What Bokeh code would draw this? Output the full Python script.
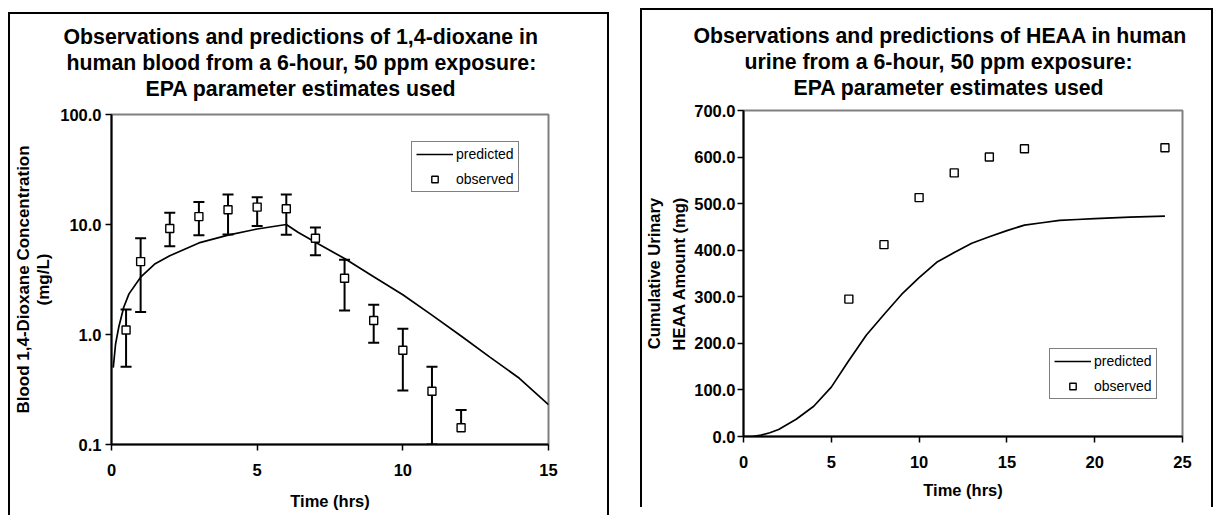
from bokeh.plotting import figure
from bokeh.models import (ColumnDataSource, Whisker, TeeHead, Legend, LegendItem, Title,
                          FixedTicker, NumeralTickFormatter, Range1d)
from bokeh.layouts import row
from bokeh.embed import file_html
from bokeh.resources import INLINE

FONT = "Liberation Sans"

# ---------------- data: left chart (blood) ----------------
blood_obs_time = [0.5, 1, 2, 3, 4, 5, 6, 7, 8, 9, 10, 11, 12]
blood_obs_conc = [1.1, 4.6, 9.2, 11.8, 13.6, 14.4, 13.9, 7.5, 3.25, 1.34, 0.72, 0.305, 0.142]
blood_obs_upper = [1.69, 7.5, 12.8, 16.0, 18.7, 17.7, 18.7, 9.4, 4.78, 1.86, 1.13, 0.51, 0.206]
blood_obs_lower = [0.51, 1.6, 6.35, 8.0, 8.1, 9.7, 8.05, 5.26, 1.65, 0.84, 0.31, 0.10, 0.142]
blood_pred_time = [0.06, 0.14, 0.25, 0.42, 0.6, 1.0, 1.5, 2.0, 3.0, 4.0, 5.0, 6.0, 6.4, 7.0,
                   8.0, 9.0, 10.0, 11.0, 12.0, 13.0, 14.0, 15.0]
blood_pred_conc = [0.50, 0.82, 1.17, 1.77, 2.34, 3.32, 4.4, 5.2, 6.8, 8.0, 9.1, 10.0, 8.5, 6.9,
                   4.9, 3.35, 2.3, 1.5, 0.97, 0.62, 0.40, 0.23]
blood_x_ticks = [0, 5, 10, 15]
blood_y_ticks = [0.1, 1, 10, 100]

# ---------------- data: right chart (urine) ----------------
urine_obs_time = [6, 8, 10, 12, 14, 16, 24]
urine_obs_amount = [295, 412, 513, 566, 600, 618, 620]
urine_pred_time = [0, 0.5, 1, 1.5, 2, 3, 4, 5, 6, 7, 8, 9, 10, 11, 12, 13, 14, 15, 16, 17,
                   18, 19, 20, 22, 24]
urine_pred_amount = [0, 0, 3, 8, 15, 37, 65, 106, 163, 218, 262, 305, 341, 374, 395, 415, 429,
                     442, 454, 459, 464, 466, 468, 471, 473]
urine_x_ticks = [0, 5, 10, 15, 20, 25]
urine_y_ticks = [0, 100, 200, 300, 400, 500, 600, 700]

title_left = ["Observations and predictions of 1,4-dioxane in",
              "human blood from a 6-hour, 50 ppm exposure:",
              "EPA parameter estimates used"]
title_right = ["Observations and predictions of HEAA in human",
               "urine from a 6-hour, 50 ppm exposure:",
               "EPA parameter estimates used"]
ylabel_left = ["Blood 1,4-Dioxane Concentration", "(mg/L)"]
ylabel_right = ["Cumulative Urinary", "HEAA Amount (mg)"]
xlabel = "Time (hrs)"
legend_labels = ["predicted", "observed"]

BOX_STYLE = {"border-left": "2px solid black", "border-top": "2px solid black",
             "border-right": "2px solid black"}

# shared (row-aligned) top / bottom borders
TOP, BOTTOM = 100, 73


def make_fig(width, height, bl, br, xr, yr, yscale, xticks, yticks, tick_size, margin):
    p = figure(width=width, height=height, x_range=xr, y_range=yr, y_axis_type=yscale,
               output_backend="svg", toolbar_location=None, tools="", title_location=None,
               min_border_left=bl, min_border_right=br, min_border_top=TOP,
               min_border_bottom=BOTTOM, styles=BOX_STYLE, margin=margin)
    p.grid.visible = False
    p.background_fill_color = "white"
    p.border_fill_color = "white"
    p.outline_line_color = "#808080"
    p.outline_line_width = 2
    for ax in (p.xaxis[0], p.yaxis[0]):
        ax.axis_line_color = "black"
        ax.axis_line_width = 2
        ax.major_tick_in = 0
        ax.major_tick_out = 6
        ax.major_tick_line_width = 1.5
        ax.minor_tick_line_color = None
        ax.major_label_text_font = FONT
        ax.major_label_text_font_style = "bold"
        ax.major_label_text_font_size = tick_size
        ax.major_label_text_color = "black"
        ax.axis_label_text_font = FONT
        ax.axis_label_text_font_style = "bold"
        ax.axis_label_text_font_size = "16.5px"
        ax.axis_label_text_color = "black"
    p.xaxis[0].ticker = FixedTicker(ticks=xticks, minor_ticks=[])
    p.yaxis[0].ticker = FixedTicker(ticks=yticks, minor_ticks=[])
    p.xaxis[0].major_label_standoff = 13
    p.yaxis[0].major_label_standoff = 4
    p.yaxis[0].formatter = NumeralTickFormatter(format="0.0")
    p.xaxis[0].axis_label = xlabel
    return p


def add_titles(p, lines, offsets, spacer):
    # closest to the frame first
    p.add_layout(Title(text=" ", text_font_size="%dpx" % spacer, standoff=0), "above")
    for text, off in reversed(list(zip(lines, offsets))):
        p.add_layout(Title(text=text, align="left", offset=off, text_font=FONT,
                           text_font_size="21.3px", text_font_style="bold",
                           text_color="black", standoff=0), "above")


def add_legend(p, line_r, sc_r, loc):
    leg = Legend(items=[LegendItem(label=legend_labels[0], renderers=[line_r]),
                        LegendItem(label=legend_labels[1], renderers=[sc_r])],
                 location=loc, orientation="vertical")
    leg.border_line_color = "black"
    leg.border_line_width = 1.5
    leg.background_fill_color = "white"
    leg.background_fill_alpha = 1.0
    leg.label_text_font = FONT
    leg.label_text_font_size = "14px"
    leg.label_text_color = "black"
    leg.padding = 4
    leg.spacing = 9
    leg.margin = 0
    leg.glyph_width = 37
    leg.glyph_height = 16
    leg.label_height = 16
    leg.label_standoff = 3
    p.add_layout(leg)


# ---------------- left figure ----------------
p1 = make_fig(601, TOP + 330 + BOTTOM, 101, 63, Range1d(0, 15), Range1d(0.1, 100), "log",
              blood_x_ticks, blood_y_ticks, "16.5px", (12, 0, 0, 0))
p1.yaxis[0].axis_label = "\n".join(ylabel_left)
p1.yaxis[0].axis_label_text_font_size = "17px"
p1.yaxis[0].axis_label_standoff = 4
p1.yaxis[0].axis_label_text_line_height = 1.05
p1.xaxis[0].axis_label_standoff = 13

line1 = p1.line(blood_pred_time, blood_pred_conc, line_color="black", line_width=1.7)

up_src = ColumnDataSource(dict(x=blood_obs_time, base=blood_obs_conc, top=blood_obs_upper))
lo_idx = [i for i in range(len(blood_obs_time)) if blood_obs_lower[i] < blood_obs_conc[i]]
lo_src = ColumnDataSource(dict(x=[blood_obs_time[i] for i in lo_idx],
                               base=[blood_obs_conc[i] for i in lo_idx],
                               bot=[blood_obs_lower[i] for i in lo_idx]))
p1.add_layout(Whisker(source=up_src, base="x", lower="base", upper="top", dimension="height",
                      line_color="black", line_width=2, level="underlay",
                      upper_head=TeeHead(size=11, line_width=2, line_color="black"),
                      lower_head=None))
p1.add_layout(Whisker(source=lo_src, base="x", lower="bot", upper="base", dimension="height",
                      line_color="black", line_width=2, level="underlay",
                      lower_head=TeeHead(size=11, line_width=2, line_color="black"),
                      upper_head=None))
sc1 = p1.scatter(blood_obs_time, blood_obs_conc, marker="square", size=8, fill_color="white",
                 line_color="black", line_width=1.4)
add_titles(p1, title_left, [-48, -45, 34], 11)
add_legend(p1, line1, sc1, (300, 252))

# ---------------- right figure ----------------
p2 = make_fig(573, TOP + 326 + BOTTOM, 100, 33, Range1d(0, 25), Range1d(0, 700), "linear",
              urine_x_ticks, urine_y_ticks, "16.5px", (8, 0, 0, 0))
p2.yaxis[0].major_label_standoff = 2
p2.yaxis[0].axis_label = "\n".join(ylabel_right)
p2.yaxis[0].axis_label_standoff = 3
p2.yaxis[0].axis_label_text_line_height = 1.4
p2.xaxis[0].axis_label_standoff = 10

line2 = p2.line(urine_pred_time, urine_pred_amount, line_color="black", line_width=1.7)
sc2 = p2.scatter(urine_obs_time, urine_obs_amount, marker="square", size=8, fill_color="white",
                 line_color="black", line_width=1.4)
add_titles(p2, title_right, [-50, 1, 50], 8)
add_legend(p2, line2, sc2, (306, 37))

layout = row(p1, p2, spacing=31, margin=(0, 0, 0, 8))
open("out.html", "w").write(file_html(layout, INLINE))
